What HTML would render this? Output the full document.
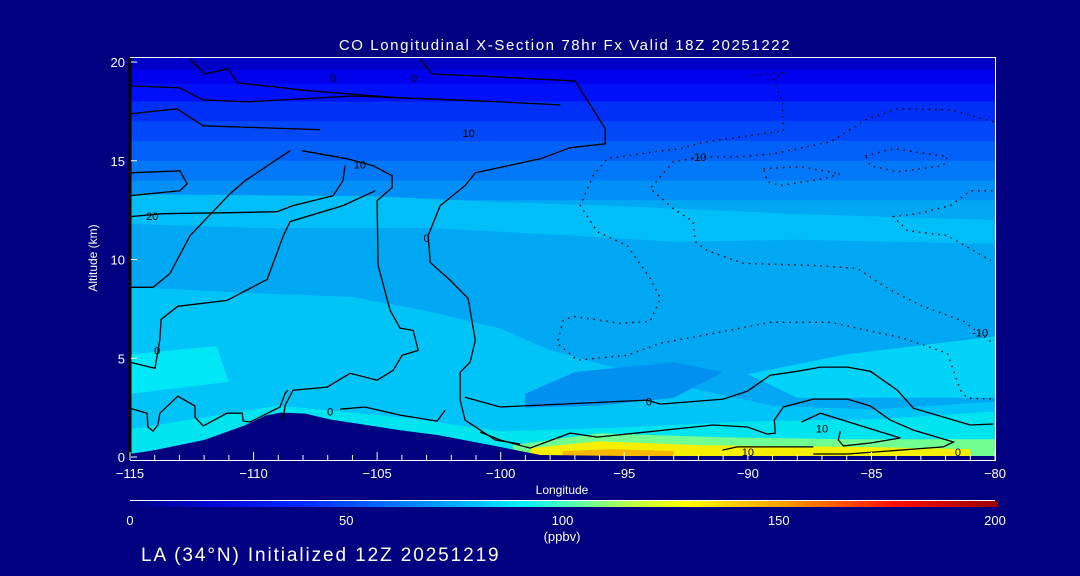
<!DOCTYPE html>
<html><head><meta charset="utf-8"><style>
html,body{margin:0;padding:0;background:#000080;}
svg{display:block;font-family:"Liberation Sans",sans-serif;}
</style></head><body>
<svg id="chart" width="1080" height="576" viewBox="0 0 1080 576" xmlns="http://www.w3.org/2000/svg">
<defs>
<linearGradient id="cbar" x1="0" x2="1" y1="0" y2="0">
<stop offset="0" stop-color="#000080"/><stop offset="0.1" stop-color="#0008d8"/><stop offset="0.2" stop-color="#0028ff"/>
<stop offset="0.3" stop-color="#0070ff"/><stop offset="0.4" stop-color="#00c0ff"/><stop offset="0.45" stop-color="#00f0ff"/>
<stop offset="0.52" stop-color="#60ffa0"/><stop offset="0.58" stop-color="#c0ff40"/><stop offset="0.64" stop-color="#ffff00"/>
<stop offset="0.75" stop-color="#ffa000"/><stop offset="0.88" stop-color="#ff1000"/><stop offset="1" stop-color="#980000"/>
</linearGradient>
<clipPath id="plotclip"><rect x="130" y="58" width="865" height="399"/></clipPath>
</defs>
<g id="plot" clip-path="url(#plotclip)"></g>
<g id="axes"></g>
<text x="565" y="50" fill="#fff" font-size="15" letter-spacing="1.6" text-anchor="middle">CO Longitudinal X-Section 78hr  Fx Valid 18Z 20251222</text>
<text transform="translate(97,258) rotate(-90)" fill="#fff" font-size="12" text-anchor="middle">Altitude (km)</text>
<text x="562" y="494" fill="#fff" font-size="12" text-anchor="middle">Longitude</text>
<line x1="130" x2="995" y1="500.5" y2="500.5" stroke="#fff" stroke-width="1"/>
<rect x="130" y="501" width="868" height="6" fill="url(#cbar)"/>
<g id="cbticks"></g>
<text x="562" y="541" fill="#fff" font-size="13" text-anchor="middle">(ppbv)</text>
<text x="141" y="561" fill="#fff" font-size="19" letter-spacing="1.9">LA (34°N) Initialized 12Z 20251219</text>
</svg>
<script>
const xTicks = [-115,-110,-105,-100,-95,-90,-85,-80];
const yTicks = [0,5,10,15,20];
const cbTicks = [0,50,100,150,200];
const bandTops = [20.3,19.6,18.9,18.0,17.0,16.0,15.0,14.0,13.0];
const bandColors = ["#0000c8","#0000ee","#0010f8","#0030f8","#0048f8","#0060f8","#0078f8","#0090f8","#00a8f4"];
const patchLight1 = [[-115,13.3],[-105,13.2],[-100,12.9],[-95,12.7],[-88,12.3],[-80,12.0],[-80,10.8],[-88,11.0],[-93,10.9],[-97,11.2],[-103,11.6],[-110,11.6],[-115,11.8]];
const patchLight2 = [[-115,8.6],[-110,8.3],[-106,8.1],[-103,7.4],[-100,6.5],[-98,5.4],[-95,4.4],[-92,3.4],[-89,2.6],[-85,2.4],[-80,2.8],[-80,0],[-115,0]];
const patchRight = [[-90,4.2],[-86,5.2],[-82,5.8],[-80,6.1],[-80,3],[-88,3]];
const patchDark = [[-99,3.2],[-97,4.3],[-93,4.8],[-91,4.3],[-93,3.0],[-96,2.6],[-99,2.5]];
const patchCyanLeft = [[-115,5.2],[-111.5,5.6],[-111,3.8],[-115,3.2]];
const patchCyanLow = [[-115,1.4],[-109,2.6],[-104,2.0],[-100,1.3],[-95,1.5],[-90,1.8],[-85,1.9],[-80,2.3],[-80,0],[-115,0]];
const patchGreen = [[-99.5,0.6],[-96,1.2],[-91,1.0],[-86,0.9],[-82,0.9],[-80,0.9],[-80,0],[-99.5,0]];
const patchYellow = [[-98.8,0.45],[-96,0.8],[-92,0.6],[-89,0.55],[-85,0.5],[-81,0.4],[-81,0],[-98.8,0]];
const patchOrange = [[-97.5,0.3],[-95.5,0.4],[-93,0.3],[-93,0],[-97.5,0]];
const terrain = [[-115,0.15],[-114,0.35],[-112,0.86],[-110.35,1.6],[-109.5,2.1],[-108.9,2.25],[-107.9,2.2],[-106.9,1.9],[-104.1,1.36],[-102.5,1.1],[-100.4,0.6],[-98.4,0.1],[-95,0.05],[-80,0.05],[-80,-1],[-115,-1]];
const solidLines = [
 [[-112.57,20.15],[-111.96,19.39],[-111.03,19.65],[-110.63,18.94],[-107.71,18.54],[-104.07,18.18],[-100.02,17.98],[-97.59,17.83]],
 [[-103.26,20.15],[-102.77,19.39],[-100.83,19.29],[-96.98,19.04],[-95.77,16.62],[-95.77,15.86],[-97.19,15.66],[-98.40,15.10],[-101.03,14.39],[-101.44,13.74],[-102.45,12.73],[-102.94,11.21],[-102.85,9.85],[-102.04,8.94],[-101.32,8.03],[-101.03,5.91],[-101.24,4.80],[-101.64,4.29],[-101.64,2.88],[-101.44,1.87],[-100.22,0.86],[-99.21,0.66]],
 [[-108.04,15.51],[-106.21,15.10],[-105.16,14.75],[-104.39,14.24],[-104.39,13.64],[-105.0,12.98],[-104.96,9.70],[-104.47,7.42],[-104.07,6.52],[-103.54,6.41],[-103.34,5.40],[-103.99,5.15],[-104.35,4.39],[-105.0,3.89],[-106.09,4.24],[-107.02,3.54],[-108.40,3.38],[-108.72,2.63],[-108.81,1.87]],
 [[-115,12.17],[-113.66,12.32],[-110.95,12.37],[-109.05,12.42],[-108.40,12.73],[-106.78,13.23],[-106.38,13.99],[-106.3,14.75]],
 [[-115,8.59],[-114.07,8.59],[-113.38,9.29],[-112.57,11.21],[-110.95,13.33],[-110.34,13.99],[-108.52,15.51]],
 [[-115,4.80],[-113.99,4.49],[-113.79,5.96],[-113.74,6.97],[-113.06,7.63],[-111.07,7.93],[-109.45,8.99],[-108.81,11.16],[-108.52,11.92],[-106.38,12.73],[-105.08,13.48]],
 [[-115,2.47],[-114.31,2.22],[-114.27,1.52],[-114.07,1.31],[-113.87,1.62],[-113.79,2.22],[-113.06,3.08],[-112.37,2.58],[-112.37,2.02],[-112.04,1.57],[-111.07,2.22],[-110.46,2.22],[-110.42,1.82],[-110.14,1.77],[-108.93,2.53],[-108.72,3.23],[-108.60,3.38]],
 [[-106.50,2.42],[-105.49,2.53],[-104.07,2.12],[-102.57,1.82],[-102.25,2.37]],
 [[-101.44,3.03],[-100.02,2.53],[-94.07,2.88],[-93.54,2.68],[-90.99,2.93],[-90.02,3.33],[-89.09,4.14],[-88.0,4.34],[-87.06,4.55],[-85.97,4.55],[-85.04,4.34],[-83.95,3.38],[-83.30,2.47],[-81.0,1.62],[-80.06,1.67]],
 [[-100.83,1.26],[-100.02,0.86],[-98.81,0.45],[-97.19,1.21],[-96.09,1.01],[-91.40,1.62],[-90.02,1.52],[-89.21,1.16],[-88.89,1.21],[-88.93,1.87],[-88.56,2.53],[-87.35,2.93],[-85.97,2.93],[-85.04,2.58],[-84.23,1.87],[-83.30,1.36],[-81.68,0.76],[-82.09,0.51],[-85.97,0.15],[-87.35,0.15]],
 [[-87.83,1.77],[-87.06,2.22],[-83.83,0.96],[-85.04,0.71],[-86.13,0.56],[-86.34,0.86],[-86.26,1.31]],
 [[-91.03,0.35],[-90.43,0.51],[-88.0,0.51],[-87.35,0.51]],
 [[-115,18.79],[-112.98,18.69],[-112.04,18.08],[-110.26,17.98],[-105.97,18.28],[-100.83,18.03]],
 [[-115,17.37],[-113.10,17.63],[-112.04,16.77],[-107.31,16.57]],
 [[-115,14.39],[-112.98,14.49],[-112.69,13.84],[-112.98,13.48],[-115,13.23]]
];
const dottedLines = [
 [[-90.02,19.29],[-88.48,19.49],[-88.97,19.14],[-88.60,17.98],[-88.56,16.52],[-90.02,16.26],[-91.11,16.06],[-92.04,15.86],[-92.73,15.61],[-93.83,15.45],[-95.69,15.10],[-96.26,14.24],[-96.78,12.73],[-96.09,11.41],[-94.88,10.71],[-93.95,9.04],[-93.54,8.03],[-93.95,6.87],[-95.16,6.77],[-97.06,7.12],[-97.47,6.92],[-97.71,5.76],[-96.90,4.90],[-94.88,5.15],[-93.54,5.76],[-91.40,6.26],[-89.09,6.82],[-86.66,6.82],[-83.70,6.01],[-81.92,5.25],[-81.40,3.38],[-81.11,2.98],[-80.06,2.93]],
 [[-80.06,16.97],[-81.80,17.58],[-83.95,17.63],[-85.16,17.12],[-86.66,15.96],[-88.97,15.35],[-90.30,15.20],[-91.80,15.20],[-93.02,14.95],[-93.95,13.59],[-93.02,12.58],[-92.21,11.92],[-92.13,10.91],[-91.64,10.45],[-90.18,9.80],[-87.35,9.70],[-85.57,9.55],[-84.35,8.54],[-83.02,7.68],[-81.28,6.87],[-80.18,5.86]],
 [[-80.10,13.48],[-80.99,13.48],[-81.80,12.73],[-83.14,12.32],[-84.11,12.17],[-83.54,11.46],[-81.92,11.21],[-80.18,9.95]],
 [[-85.24,15.25],[-84.11,15.61],[-81.92,15.20],[-82.09,14.75],[-83.95,14.44],[-85.04,14.75],[-85.24,15.25]],
 [[-89.37,14.60],[-87.87,14.70],[-86.26,14.34],[-86.94,14.09],[-88.68,13.74],[-89.21,13.94],[-89.37,14.60]]
];
const contourLabels = [["0",-106.8,19.2],["0",-103.5,19.2],["10",-101.3,16.4],["10",-105.7,14.8],["20",-114.1,12.2],["0",-103.0,11.1],["0",-113.9,5.4],["0",-106.9,2.3],["0",-94.0,2.8],["10",-87.0,1.45],["10",-90.0,0.25],["0",-81.5,0.25],["-10",-92.0,15.2],["-10",-80.6,6.3]];

const NS = "http://www.w3.org/2000/svg";
const X = lon => 130 + (lon + 115) * 24.714;
const Y = alt => 457 - alt * 19.75;
const plot = document.getElementById('plot');
const axes = document.getElementById('axes');
function mk(tag, attrs, parent){const e=document.createElementNS(NS,tag);for(const k in attrs)e.setAttribute(k,attrs[k]);parent.appendChild(e);return e;}
function pts(a){return a.map(p=>X(p[0]).toFixed(1)+','+Y(p[1]).toFixed(1)).join(' ');}

for(let i=0;i<bandTops.length;i++){
  const r=mk('rect',{x:130,y:Y(bandTops[i]),width:865,height:Y(0)-Y(bandTops[i]),fill:bandColors[i]},plot);
  
  
}
const patches=[[patchLight1,"#00bef8"],[patchLight2,"#00c4f8"],[patchRight,"#00d2f8"],[patchDark,"#0090f0"],[patchCyanLeft,"#00e8f8"],[patchCyanLow,"#00e4f0"],[patchGreen,"#70ff90"],[patchYellow,"#f4f000"],[patchOrange,"#f8b800"]];
patches.forEach(p=>{
  const e=mk('polygon',{points:pts(p[0]),fill:p[1]},plot);
  
  
});
const t=mk('polygon',{points:pts(terrain),fill:"#000080"},plot);


solidLines.forEach(l=>{
  const e=mk('polyline',{points:pts(l),fill:'none',stroke:'#000','stroke-width':1.3},plot);
  
  
});
dottedLines.forEach(l=>{
  const e=mk('polyline',{points:pts(l),fill:'none',stroke:'#000','stroke-width':1.4,'stroke-dasharray':'1.5 5'},plot);
  
  
});
contourLabels.forEach(c=>{
  const e=mk('text',{x:X(c[1]),y:Y(c[2])+4,'font-size':11,fill:'#000','text-anchor':'middle'},plot);
  e.textContent=c[0];
  
  
});
let e;
e=mk('line',{x1:130,x2:995,y1:57.5,y2:57.5,stroke:'#fff','stroke-width':1},axes);


e=mk('line',{x1:995.5,x2:995.5,y1:57,y2:460,stroke:'#fff','stroke-width':1},axes);


e=mk('line',{x1:130,x2:996,y1:460.5,y2:460.5,stroke:'#fff','stroke-width':1},axes);


e=mk('line',{x1:130,x2:130,y1:58,y2:457,stroke:'#000','stroke-width':3},axes);


for(let lon=-115;lon<=-80;lon++){
  const major = xTicks.includes(lon);
  const tk=mk('line',{x1:X(lon),x2:X(lon),y1:460,y2:major?452:455,stroke:'#fff','stroke-width':1},axes);
  
  
}
xTicks.forEach(v=>{
  const l=mk('text',{x:X(v),y:478,'font-size':13,fill:'#fff','text-anchor':'middle'},axes);
  l.textContent=String(v).replace('-','\u2212');
  
  
});
yTicks.forEach(v=>{
  const l=mk('text',{x:125,y:Y(v)+5,'font-size':13,fill:'#fff','text-anchor':'end'},axes);
  l.textContent=v;
  
  
  const tk=mk('line',{x1:131,x2:137,y1:Y(v),y2:Y(v),stroke:'#fff','stroke-width':1},axes);
  
  
});
const cb=document.getElementById('cbticks');
cbTicks.forEach(v=>{
  const l=mk('text',{x:130+v/200*865,y:525,'font-size':13,fill:'#fff','text-anchor':'middle'},cb);
  l.textContent=v;
  
  
});
</script>
</body></html>
